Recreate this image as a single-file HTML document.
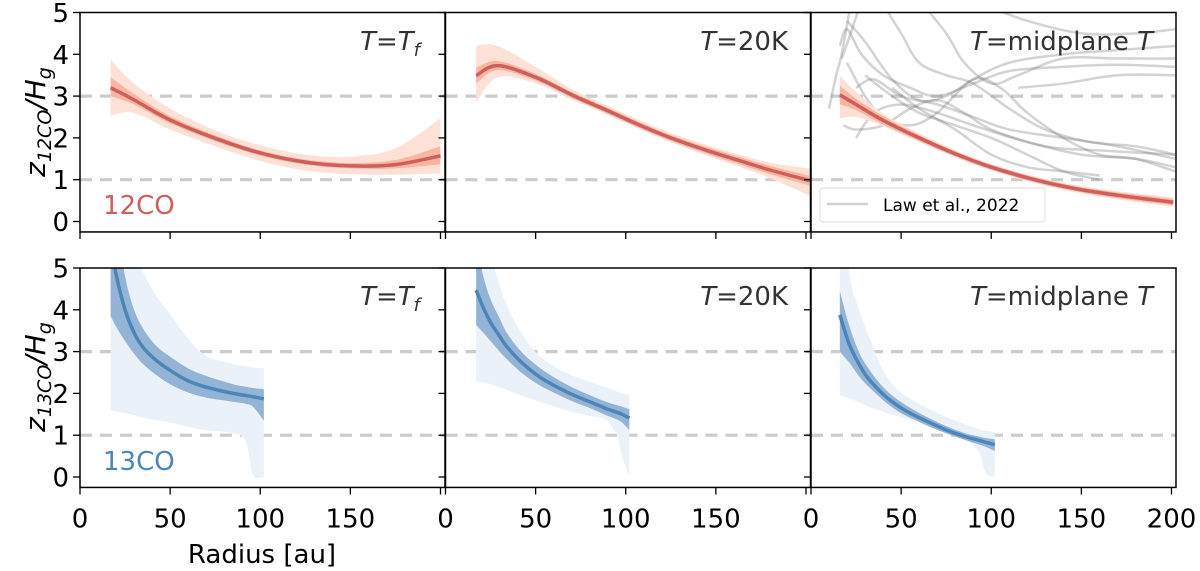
<!DOCTYPE html>
<html><head><meta charset="utf-8"><style>
html,body{margin:0;padding:0;background:#fff;}
svg{display:block;font-family:"DejaVu Sans","Liberation Sans",sans-serif;}
</style></head><body>
<svg id="chart" width="1200" height="571" viewBox="0 0 1200 571" xmlns="http://www.w3.org/2000/svg">
<defs>
<clipPath id="c0"><rect x="80" y="12.5" width="365.5" height="219"/></clipPath>
<clipPath id="c1"><rect x="445.5" y="12.5" width="365.5" height="219"/></clipPath>
<clipPath id="c2"><rect x="811" y="12.5" width="365" height="219"/></clipPath>
<clipPath id="c3"><rect x="80" y="268" width="365.5" height="219"/></clipPath>
<clipPath id="c4"><rect x="445.5" y="268" width="365.5" height="219"/></clipPath>
<clipPath id="c5"><rect x="811" y="268" width="365" height="219"/></clipPath>
</defs>
<g id="root"></g>
</svg>
<script>
// ---- data ----
const xTicks = [0, 50, 100, 150, 200];
const yTicks = [0, 1, 2, 3, 4, 5];
const refLines = [1, 3];
const titles = ["Tf", "20K", "mid"];

const r1x = [17, 30, 50, 75, 100, 125, 150, 175, 200];
const r1mid = [3.20, 2.91, 2.43, 1.99, 1.64, 1.42, 1.33, 1.36, 1.57];
const r1ilo = [3.0, 2.8, 2.35, 1.92, 1.58, 1.36, 1.27, 1.27, 1.37];
const r1ihi = [3.45, 3.05, 2.52, 2.06, 1.70, 1.48, 1.40, 1.47, 1.80];
const r1olo = [2.54, 2.6, 2.2, 1.8, 1.45, 1.22, 1.13, 1.12, 1.15];
const r1ohi = [3.88, 3.3, 2.7, 2.18, 1.82, 1.6, 1.55, 1.75, 2.47];

const r2x = [17, 29, 50, 71, 90, 108, 125, 145, 165, 181, 202];
const r2mid = [3.49, 3.73, 3.45, 3.01, 2.65, 2.30, 2.0, 1.70, 1.43, 1.22, 0.98];
const r2ilo = [3.3, 3.62, 3.37, 2.94, 2.58, 2.23, 1.93, 1.62, 1.34, 1.12, 0.86];
const r2ihi = [3.68, 3.84, 3.53, 3.08, 2.72, 2.37, 2.07, 1.78, 1.52, 1.32, 1.10];
const r2olo = [2.85, 3.45, 3.3, 2.9, 2.55, 2.2, 1.9, 1.58, 1.28, 1.02, 0.62];
const r2ohi = [4.21, 4.2, 3.7, 3.15, 2.77, 2.42, 2.12, 1.83, 1.58, 1.4, 1.27];

const r3x = [16, 25, 40, 60, 80, 100, 126, 150, 175, 201];
const r3mid = [3.03, 2.8, 2.42, 2.0, 1.62, 1.3, 0.98, 0.76, 0.6, 0.46];
const r3ilo = [2.8, 2.66, 2.32, 1.93, 1.56, 1.24, 0.92, 0.7, 0.53, 0.39];
const r3ihi = [3.25, 2.94, 2.52, 2.07, 1.68, 1.36, 1.04, 0.82, 0.67, 0.54];
const r3olo = [2.46, 2.5, 2.28, 1.9, 1.53, 1.22, 0.9, 0.67, 0.5, 0.35];
const r3ohi = [3.49, 3.1, 2.58, 2.11, 1.71, 1.38, 1.06, 0.85, 0.7, 0.58];

const b1x = [17, 20, 25, 30, 35, 42, 50, 60, 70, 85, 92, 96, 102];
const b1mid = [5.6, 4.85, 4.0, 3.45, 3.1, 2.8, 2.55, 2.3, 2.15, 2.0, 1.95, 1.92, 1.87];
const b1ilo = [3.85, 3.6, 3.25, 2.95, 2.7, 2.45, 2.22, 2.02, 1.9, 1.8, 1.75, 1.68, 1.35];
const b1ihi = [7.5, 6.2, 4.8, 4.0, 3.55, 3.15, 2.88, 2.6, 2.42, 2.22, 2.16, 2.13, 2.1];
const b1olo = [1.6, 1.57, 1.53, 1.48, 1.42, 1.36, 1.3, 1.2, 1.12, 1.05, 0.85, 0.05, 0];
const b1ohi = [9, 7.5, 6, 5.3, 4.9, 4.35, 3.9, 3.3, 2.9, 2.7, 2.65, 2.62, 2.6];

const b2x = [17, 21, 25, 30, 34, 42, 52, 62, 71, 80, 89, 95, 98, 102];
const b2mid = [4.47, 4.05, 3.7, 3.37, 3.12, 2.75, 2.40, 2.15, 1.96, 1.8, 1.64, 1.55, 1.5, 1.41];
const b2ilo = [3.64, 3.45, 3.25, 3.0, 2.82, 2.5, 2.2, 1.98, 1.8, 1.65, 1.48, 1.38, 1.3, 1.12];
const b2ihi = [5.6, 4.8, 4.25, 3.8, 3.45, 3.0, 2.62, 2.34, 2.13, 1.96, 1.8, 1.72, 1.68, 1.62];
const b2olo = [2.28, 2.26, 2.22, 2.15, 2.08, 1.95, 1.8, 1.66, 1.55, 1.46, 1.36, 1.0, 0.5, 0];
const b2ohi = [7, 6, 5.3, 4.6, 4.1, 3.45, 2.9, 2.6, 2.42, 2.28, 2.15, 2.05, 2.0, 1.96];

const b3x = [16, 21, 26, 31, 40, 49, 58, 67, 76, 86, 93, 97, 102];
const b3mid = [3.88, 3.2, 2.75, 2.40, 1.98, 1.68, 1.46, 1.28, 1.11, 0.96, 0.88, 0.83, 0.77];
const b3ilo = [3.0, 2.75, 2.45, 2.2, 1.84, 1.55, 1.36, 1.18, 1.03, 0.88, 0.78, 0.72, 0.62];
const b3ihi = [4.45, 3.65, 3.05, 2.65, 2.15, 1.82, 1.58, 1.38, 1.2, 1.04, 0.97, 0.93, 0.9];
const b3olo = [1.96, 1.88, 1.8, 1.7, 1.56, 1.44, 1.32, 1.2, 1.05, 0.88, 0.6, 0.1, 0];
const b3ohi = [8, 5.0, 4.1, 3.5, 2.55, 2.05, 1.8, 1.6, 1.42, 1.25, 1.15, 1.1, 1.08];

// Law et al. 2022 profiles (radius au, z/H)
const lawX1 = [10, 14, 17, 22]; const lawY1 = [2.7, 3.5, 4.0, 5.2];
const lawX2 = [17, 22, 28]; const lawY2 = [3.9, 4.5, 5.3];
const lawX3 = [16, 20, 28, 40, 55, 70, 90, 110, 140, 170, 202]; const lawY3 = [4.2, 4.6, 4.0, 3.5, 3.2, 3.0, 3.3, 3.6, 3.7, 3.75, 3.7];
const lawX4 = [20, 30, 45, 60, 75, 90, 110, 140, 170, 202]; const lawY4 = [4.8, 4.3, 3.4, 2.9, 3.0, 3.4, 3.8, 4.0, 4.1, 4.2];
const lawX5 = [18, 25, 40, 55, 70, 85, 100, 130, 160, 202]; const lawY5 = [2.3, 2.2, 2.3, 2.7, 2.9, 2.6, 2.2, 1.8, 1.7, 1.6];
const lawX6 = [25, 35, 50, 70, 90, 120, 150, 180, 202]; const lawY6 = [2.0, 2.6, 2.8, 2.6, 2.3, 1.9, 1.6, 1.5, 1.3];
const lawX7 = [20, 30, 40, 55, 70, 90, 105, 120, 140, 160, 180, 202]; const lawY7 = [3.8, 3.0, 2.5, 2.3, 2.6, 3.4, 3.2, 2.6, 2.0, 1.6, 1.5, 1.2];
const lawX8 = [40, 50, 60, 75, 90, 110, 130, 155, 180, 202]; const lawY8 = [5.2, 4.5, 3.8, 3.5, 3.3, 2.7, 2.2, 1.9, 1.8, 1.6];
const lawX9 = [60, 75, 85, 100, 115, 140, 170, 202]; const lawY9 = [5.3, 4.5, 3.8, 3.3, 3.5, 3.9, 3.9, 3.9];
const lawX10 = [30, 45, 60, 80, 100, 120, 140, 160]; const lawY10 = [3.5, 3.0, 2.6, 2.3, 2.0, 1.6, 1.2, 1.0];
const lawX11 = [45, 60, 80, 100, 120, 140, 160]; const lawY11 = [3.2, 2.7, 2.2, 1.6, 1.3, 1.2, 1.1];
const lawX12 = [95, 120, 150, 180, 202]; const lawY12 = [5.2, 4.8, 4.5, 4.5, 4.6];
const lawX13 = [115, 140, 170, 202]; const lawY13 = [3.2, 3.3, 3.5, 3.5];
const lawX14 = [25, 35, 50, 70, 90, 110, 140, 170, 202]; const lawY14 = [3.2, 3.4, 3.0, 2.8, 2.5, 2.2, 2.0, 1.8, 1.5];

// ---- layout ----
const NS = "http://www.w3.org/2000/svg";
const root = document.getElementById('root');
const colX0 = [80, 445.5, 811];
const rowY5 = [12.5, 268];
const PW = 365, XMAX = 202.5, YS = 41.8;
function sx(c, v) { return colX0[c] + v / XMAX * PW; }
function sy(r, v) { return rowY5[r] + (5 - v) * YS; }
function mk(tag, attrs, parent) {
  const e = document.createElementNS(NS, tag);
  for (const k in attrs) e.setAttribute(k, attrs[k]);
  (parent || root).appendChild(e);
  return e;
}
function crPath(pts) {
  let d = "M" + pts[0][0].toFixed(2) + "," + pts[0][1].toFixed(2);
  for (let i = 0; i < pts.length - 1; i++) {
    const p0 = pts[i - 1] || pts[i], p1 = pts[i], p2 = pts[i + 1], p3 = pts[i + 2] || p2;
    const c1 = [p1[0] + (p2[0] - p0[0]) / 6, p1[1] + (p2[1] - p0[1]) / 6];
    const c2 = [p2[0] - (p3[0] - p1[0]) / 6, p2[1] - (p3[1] - p1[1]) / 6];
    d += "C" + c1[0].toFixed(2) + "," + c1[1].toFixed(2) + " " + c2[0].toFixed(2) + "," + c2[1].toFixed(2) + " " + p2[0].toFixed(2) + "," + p2[1].toFixed(2);
  }
  return d;
}
function pts(c, r, xs, ys) { return xs.map((x, i) => [sx(c, x), sy(r, ys[i])]); }
function band(c, r, xs, lo, hi, fill, name, g) {
  const top = pts(c, r, xs, hi);
  const bot = pts(c, r, xs, lo).reverse();
  const bp = crPath(bot);
  const d = crPath(top) + "L" + bot[0][0].toFixed(2) + "," + bot[0][1].toFixed(2) + bp.slice(bp.indexOf("C")) + "Z";
  const p = mk('path', { d: d, fill: fill, stroke: 'none' }, g);
  
  
}
function line(c, r, xs, ys, stroke, w, name, g, op) {
  const p = mk('path', { d: crPath(pts(c, r, xs, ys)), fill: 'none', stroke: stroke, 'stroke-width': w, 'stroke-linejoin': 'round', opacity: op || 1 }, g);
  
  
}

const RED = "#cf5f5c", RIN = "#f8b6a0", ROUT = "#fde1d6";
const BLUE = "#4c85b9", BIN = "#93b4d4", BOUT = "#eaf1f8";

const series = [
  [0, 0, r1x, r1olo, r1ilo, r1mid, r1ihi, r1ohi, 'red'],
  [1, 0, r2x, r2olo, r2ilo, r2mid, r2ihi, r2ohi, 'red'],
  [2, 0, r3x, r3olo, r3ilo, r3mid, r3ihi, r3ohi, 'red'],
  [0, 1, b1x, b1olo, b1ilo, b1mid, b1ihi, b1ohi, 'blue'],
  [1, 1, b2x, b2olo, b2ilo, b2mid, b2ihi, b2ohi, 'blue'],
  [2, 1, b3x, b3olo, b3ilo, b3mid, b3ihi, b3ohi, 'blue']
];
const lawX = [lawX1, lawX2, lawX3, lawX4, lawX5, lawX6, lawX7, lawX8, lawX9, lawX10, lawX11, lawX12, lawX13, lawX14];
const lawY = [lawY1, lawY2, lawY3, lawY4, lawY5, lawY6, lawY7, lawY8, lawY9, lawY10, lawY11, lawY12, lawY13, lawY14];

for (let r = 0; r < 2; r++) {
  for (let c = 0; c < 3; c++) {
    const idx = r * 3 + c;
    const g = mk('g', { 'clip-path': 'url(#c' + idx + ')' });
    
    
    refLines.forEach(v => {
      const l = mk('line', { x1: colX0[c], x2: colX0[c] + PW, y1: sy(r, v), y2: sy(r, v), stroke: '#cccccc', 'stroke-width': 3.2, 'stroke-dasharray': '12,8' }, g);
      
      
    });
    if (r === 0 && c === 2) {
      for (let k = 0; k < lawX.length; k++) {
        line(c, r, lawX[k], lawY[k], '#7a7a7a', 2.5, 'law-2022-profile', g, 0.33);
      }
    }
    const s = series[idx];
    const isRed = s[8] === 'red';
    band(c, r, s[2], s[3], s[7], isRed ? ROUT : BOUT, 'outer-band', g);
    band(c, r, s[2], s[4], s[6], isRed ? RIN : BIN, 'inner-band', g);
    line(c, r, s[2], s[5], isRed ? RED : BLUE, 3.5, 'median-line', g);
  }
}

for (let r = 0; r < 2; r++) {
  for (let c = 0; c < 3; c++) {
    const x0 = colX0[c], y0 = rowY5[r] + 5.25 * YS;
    const fr = mk('rect', { x: x0, y: rowY5[r], width: PW, height: y0 - rowY5[r], fill: 'none', stroke: '#000', 'stroke-width': 1.5 });
    
    
    yTicks.forEach(v => {
      const t = mk('line', { x1: x0 - 7, x2: x0, y1: sy(r, v), y2: sy(r, v), stroke: '#000', 'stroke-width': 1.3 });
      
      
      if (c === 0) {
        const tl = mk('text', { x: x0 - 11, y: sy(r, v) + 9.5, 'text-anchor': 'end', 'font-size': 26, fill: '#000' });
        tl.textContent = v;
        
        
      }
    });
    xTicks.forEach(v => {
      const t = mk('line', { x1: sx(c, v), x2: sx(c, v), y1: y0, y2: y0 + 7, stroke: '#000', 'stroke-width': 1.3 });
      
      
      if (r === 1 && !(c < 2 && v === 200)) {
        const tl = mk('text', { x: sx(c, v), y: y0 + 40, 'text-anchor': 'middle', 'font-size': 26, fill: '#000' });
        tl.textContent = v;
        
        
      }
    });
  }
}
</script>
<script>
(function(){
const NS = "http://www.w3.org/2000/svg";
const svg = document.getElementById('chart');
const g = document.createElementNS(NS,'g');
g.innerHTML = `
<text x="420" y="50" text-anchor="end" font-size="26" fill="#333"><tspan font-style="italic">T</tspan>=<tspan font-style="italic">T</tspan><tspan font-style="italic" font-size="18" dy="6">f</tspan></text>
<text x="788" y="50" text-anchor="end" font-size="26" fill="#333"><tspan font-style="italic">T</tspan>=20K</text>
<text x="1153" y="50" text-anchor="end" font-size="26" fill="#333"><tspan font-style="italic">T</tspan>=midplane <tspan font-style="italic">T</tspan></text>
<text x="420" y="305" text-anchor="end" font-size="26" fill="#333"><tspan font-style="italic">T</tspan>=<tspan font-style="italic">T</tspan><tspan font-style="italic" font-size="18" dy="6">f</tspan></text>
<text x="788" y="305" text-anchor="end" font-size="26" fill="#333"><tspan font-style="italic">T</tspan>=20K</text>
<text x="1153" y="305" text-anchor="end" font-size="26" fill="#333"><tspan font-style="italic">T</tspan>=midplane <tspan font-style="italic">T</tspan></text>
<text x="103" y="214" font-size="26" fill="#cf5f5c">12CO</text>
<text x="103" y="470" font-size="26" fill="#4c85b9">13CO</text>
<text transform="translate(45,122) rotate(-90)" text-anchor="middle" font-size="28" fill="#000"><tspan font-style="italic">z</tspan><tspan font-size="19" dy="6" font-style="italic">12CO</tspan><tspan dy="-6" font-style="italic">/H</tspan><tspan font-size="19" dy="6" font-style="italic">g</tspan></text>
<text transform="translate(45,377) rotate(-90)" text-anchor="middle" font-size="28" fill="#000"><tspan font-style="italic">z</tspan><tspan font-size="19" dy="6" font-style="italic">13CO</tspan><tspan dy="-6" font-style="italic">/H</tspan><tspan font-size="19" dy="6" font-style="italic">g</tspan></text>
<text x="262" y="563" text-anchor="middle" font-size="26" fill="#000">Radius [au]</text>
<g>
<rect x="820" y="188" width="225" height="34" rx="3" fill="#fff" fill-opacity="0.8" stroke="#dddddd" stroke-width="1"/>
<line x1="827" x2="868" y1="204" y2="204" stroke="#7a7a7a" stroke-opacity="0.35" stroke-width="2.5"/>
<text x="883" y="211" font-size="17" fill="#000">Law et al., 2022</text>
</g>`;
svg.appendChild(g);
})();
</script>
</body></html>
